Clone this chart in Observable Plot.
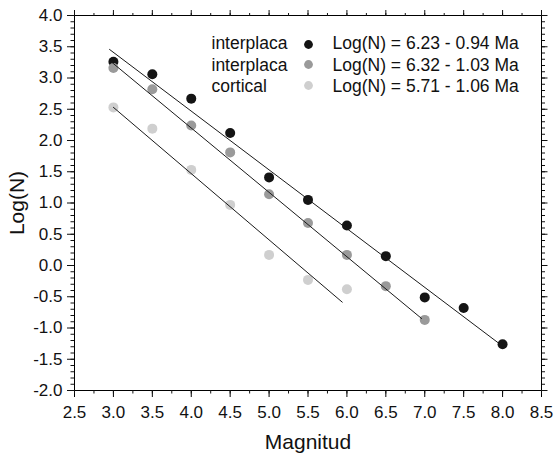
<!DOCTYPE html>
<html>
<head>
<meta charset="utf-8">
<script src="https://cdn.jsdelivr.net/npm/d3@7"></script>
<script src="https://cdn.jsdelivr.net/npm/@observablehq/plot@0.6"></script>
<style>
  body { margin: 0; background: #fff; }
  #chart svg { display: block; }
</style>
</head>
<body>
<div id="chart"></div>
<script>
// ---- Data ----
const seriesNames = ["interplaca", "interplaca", "cortical"];
const seriesColors = ["#141414", "#9a9a9a", "#cfcfcf"];

const magsInterplacaA = [3.0, 3.5, 4.0, 4.5, 5.0, 5.5, 6.0, 6.5, 7.0, 7.5, 8.0];
const logNInterplacaA = [3.26, 3.06, 2.67, 2.12, 1.41, 1.05, 0.64, 0.15, -0.51, -0.68, -1.26];

const magsInterplacaB = [3.0, 3.5, 4.0, 4.5, 5.0, 5.5, 6.0, 6.5, 7.0];
const logNInterplacaB = [3.16, 2.82, 2.24, 1.81, 1.14, 0.68, 0.17, -0.33, -0.87];

const magsCortical = [3.0, 3.5, 4.0, 4.5, 5.0, 5.5, 6.0];
const logNCortical = [2.53, 2.19, 1.53, 0.97, 0.17, -0.23, -0.38];

// Fit lines: Log(N) = a - b*M, drawn over the given magnitude range
const fitIntercepts = [6.23, 6.32, 5.71];
const fitSlopes = [0.94, 1.03, 1.06];
const fitStart = [2.95, 2.97, 3.0];
const fitEnd = [7.94, 6.96, 5.94];

const legendFormulas = [
  "Log(N) = 6.23 - 0.94 Ma",
  "Log(N) = 6.32 - 1.03 Ma",
  "Log(N) = 5.71 - 1.06 Ma"
];

const xMajorTicks = [2.5, 3.0, 3.5, 4.0, 4.5, 5.0, 5.5, 6.0, 6.5, 7.0, 7.5, 8.0, 8.5];
const yMajorTicks = [-2.0, -1.5, -1.0, -0.5, 0.0, 0.5, 1.0, 1.5, 2.0, 2.5, 3.0, 3.5, 4.0];
const xMinorTicks = d3.range(0, 25).map(i => 2.5 + i * 0.25);
const yMinorTicks = d3.range(0, 61).map(i => -2 + i * 0.1);

// ---- Build tables ----
const mags = [magsInterplacaA, magsInterplacaB, magsCortical];
const logs = [logNInterplacaA, logNInterplacaB, logNCortical];
const pointSets = mags.map((m, s) => m.map((x, i) => ({x, y: logs[s][i]})));
const fitSets = fitIntercepts.map((a, s) =>
  [fitStart[s], fitEnd[s]].map(x => ({x, y: a - fitSlopes[s] * x})));

const font = "'Liberation Sans', Arial, Helvetica, sans-serif";
const fmt = d => d.toFixed(1);

const legendBaselines = [33, 55, 76.5];   // px below top of frame
const legendDotY = [29, 49, 70];

const marks = [
  Plot.frame({stroke: "#000", strokeWidth: 1}),
  // bottom axis
  Plot.axisX({anchor: "bottom", ticks: xMajorTicks, tickSize: 7, tickPadding: 8,
    tickFormat: fmt, fontSize: 17, label: null, stroke: "#000"}),
  Plot.axisX({anchor: "bottom", ticks: xMinorTicks, tickSize: 3.5,
    tickFormat: () => "", label: null}),
  // top axis (ticks only)
  Plot.axisX({anchor: "top", ticks: xMajorTicks, tickSize: 6,
    tickFormat: () => "", label: null}),
  Plot.axisX({anchor: "top", ticks: xMinorTicks, tickSize: 3,
    tickFormat: () => "", label: null}),
  // left axis
  Plot.axisY({anchor: "left", ticks: yMajorTicks, tickSize: 7, tickPadding: 5,
    tickFormat: fmt, fontSize: 17, label: null}),
  Plot.axisY({anchor: "left", ticks: yMinorTicks, tickSize: 3.5,
    tickFormat: () => "", label: null}),
  // right axis (ticks only)
  Plot.axisY({anchor: "right", ticks: yMajorTicks, tickSize: 5.5,
    tickFormat: () => "", label: null}),
  Plot.axisY({anchor: "right", ticks: yMinorTicks, tickSize: 3,
    tickFormat: () => "", label: null}),
];

pointSets.forEach((pts, s) => {
  marks.push(Plot.dot(pts, {x: "x", y: "y", r: 5, fill: seriesColors[s], stroke: "none"}));
});
fitSets.forEach(line => {
  marks.push(Plot.line(line, {x: "x", y: "y", stroke: "#1a1a1a", strokeWidth: 1}));
});

// legend
seriesNames.forEach((name, s) => {
  marks.push(Plot.text([name], {frameAnchor: "top-left", dx: 137, dy: legendBaselines[s],
    lineAnchor: "bottom", textAnchor: "start", fontSize: 17.5, fill: "#111"}));
  marks.push(Plot.dot([0], {frameAnchor: "top-left", dx: 234, dy: legendDotY[s],
    r: 4.4, fill: seriesColors[s], stroke: "none"}));
  marks.push(Plot.text([legendFormulas[s]], {frameAnchor: "top-left", dx: 258, dy: legendBaselines[s],
    lineAnchor: "bottom", textAnchor: "start", fontSize: 17.5, fill: "#111"}));
});

// axis titles
marks.push(Plot.text(["Magnitud"], {frameAnchor: "bottom", dy: 58, lineAnchor: "bottom",
  textAnchor: "middle", fontSize: 21, fill: "#111"}));
marks.push(Plot.text(["Log(N)"], {frameAnchor: "left", dx: -51, rotate: -90, lineAnchor: "bottom",
  textAnchor: "middle", fontSize: 21, fill: "#111"}));

const chart = Plot.plot({
  width: 554,
  height: 455,
  marginLeft: 74,
  marginRight: 13,
  marginTop: 15,
  marginBottom: 65,
  x: {domain: [2.5, 8.5]},
  y: {domain: [-2, 4]},
  style: {fontFamily: font, fontSize: "17px", color: "#111", background: "#fff", overflow: "visible"},
  marks
});
document.getElementById("chart").appendChild(chart);
</script>
</body>
</html>
